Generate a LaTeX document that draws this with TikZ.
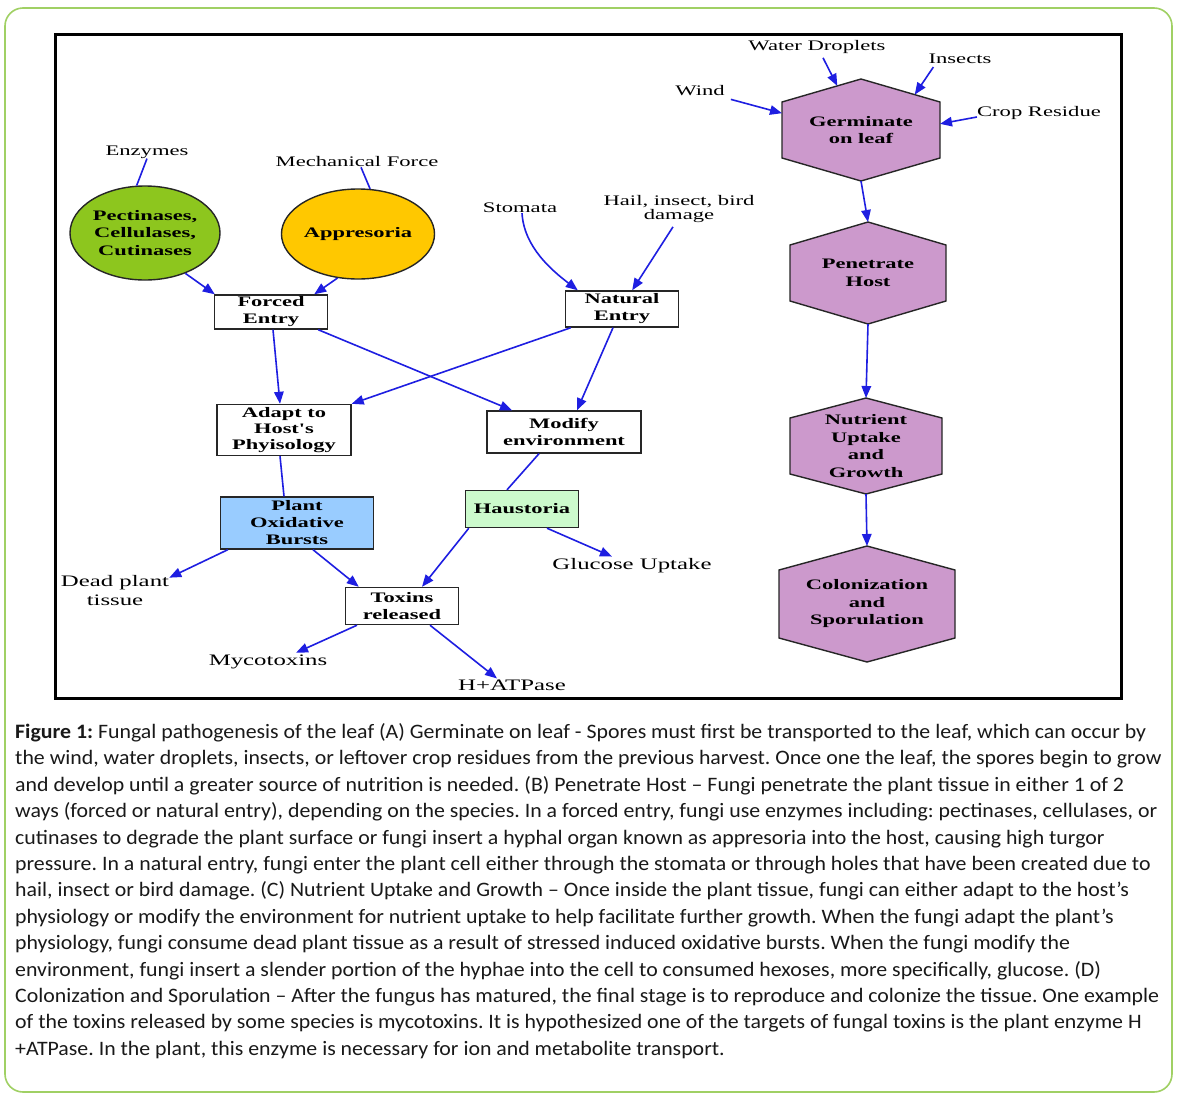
\documentclass[tikz,border=0pt]{standalone}
\usepackage{fontspec}
\setmainfont{Carlito}[FakeStretch=1.065]
\newfontfamily\dfont[FakeStretch=1.55]{Liberation Serif}
\usetikzlibrary{shapes.geometric,arrows.meta,calc}
\definecolor{edgeblue}{RGB}{30,30,225}
\definecolor{framegreen}{RGB}{160,208,100}
\definecolor{pectgreen}{RGB}{141,198,30}
\definecolor{appyellow}{RGB}{255,200,0}
\definecolor{oxblue}{RGB}{153,204,255}
\definecolor{haugreen}{RGB}{204,250,204}
\definecolor{hexpurple}{RGB}{204,153,204}
\definecolor{captext}{RGB}{25,25,25}
\newcommand\hexnode[7]{%
  \coordinate (#1-n) at (#2,#3-#5);
  \coordinate (#1-ne) at (#2+#4,#3-#6);
  \coordinate (#1-se) at (#2+#4,#3+#6);
  \coordinate (#1-s) at (#2,#3+#5);
  \coordinate (#1-sw) at (#2-#4,#3+#6);
  \coordinate (#1-nw) at (#2-#4,#3-#6);
  \filldraw[hexshape] (#1-n)--(#1-ne)--(#1-se)--(#1-s)--(#1-sw)--(#1-nw)--cycle;
  \node[hextext] (#1) at (#2,#3) {#7};
}
\begin{document}
\frenchspacing
\begin{tikzpicture}[x=1pt,y=-1pt,
  lbl/.style={font=\dfont\fontsize{14.6}{15.5}\selectfont, inner sep=0pt, align=center},
  biglbl/.style={font=\dfont\fontsize{16}{19}\selectfont, inner sep=0pt, align=center},
  bx/.style={draw=black!85, line width=1.4pt, fill=white, font=\dfont\bfseries\fontsize{14.5}{17}\selectfont, align=center, inner sep=0pt},
  ell/.style={ellipse, draw=black!85, line width=1.4pt, font=\dfont\bfseries\fontsize{14.5}{17.5}\selectfont, align=center, inner sep=0pt},
  hextext/.style={font=\dfont\bfseries\fontsize{14.5}{17.5}\selectfont, align=center, inner sep=0pt},
  hexshape/.style={fill=hexpurple, draw=black!85, line width=1.4pt},
  conn/.style={draw=edgeblue, line width=1.6pt},
  arr/.style={conn, -{Triangle[length=12pt,width=9.5pt]}},
  captxt/.style={anchor=base west, inner sep=0pt, font=\fontsize{20.5}{24}\selectfont, text=captext}
]
\useasboundingbox (0,0) rectangle (1181,1098);
\fill[white] (0,0) rectangle (1181,1098);
% outer frame and inner frame
\draw[framegreen, line width=1.6pt, rounded corners=18pt] (5,8) rectangle (1172,1092);
\draw[black, line width=3pt] (55,34) rectangle (1121,698);

% left part
\node[ell, fill=pectgreen, minimum width=150pt, minimum height=94pt] (pect) at (145,233) {Pectinases,\\Cellulases,\\Cutinases};
\node[ell, fill=appyellow, minimum width=124pt, minimum height=90pt] (app) at (358,234) {Appresoria};
\node[lbl] (enz) at (147,152) {Enzymes};
\node[lbl] (mech) at (357,162) {Mechanical Force};
\node[lbl] (stom) at (520,208) {Stomata};
\node[lbl, font=\dfont\fontsize{14.6}{14}\selectfont] (hail) at (679,209) {Hail, insect, bird\\damage};
\node[bx, minimum width=113pt, minimum height=34pt] (forced) at (271,312) {Forced\\Entry};
\node[bx, minimum width=113pt, minimum height=36pt] (nat) at (622,309) {Natural\\Entry};
\node[bx, minimum width=134pt, minimum height=51pt, font=\dfont\bfseries\fontsize{14.5}{16}\selectfont] (adapt) at (284,430) {Adapt to\\Host's\\Phyisology};
\node[bx, minimum width=154pt, minimum height=42pt] (modify) at (564,432) {Modify\\environment};
\node[bx, fill=oxblue, minimum width=153pt, minimum height=52pt] (plant) at (297,523) {Plant\\Oxidative\\Bursts};
\node[bx, fill=haugreen, minimum width=113pt, minimum height=37pt] (haus) at (522,509) {Haustoria};
\node[bx, minimum width=113pt, minimum height=37pt] (toxins) at (402,606) {Toxins\\released};
\node[biglbl] (dead) at (115,591) {Dead plant\\tissue};
\node[biglbl] (gluc) at (632,566) {Glucose Uptake};
\node[biglbl] (myco) at (268,662) {Mycotoxins};
\node[biglbl] (hatp) at (512,685) {H+ATPase};

% right column
\hexnode{germ}{861}{130}{79}{51}{28}{Germinate\\on leaf}
\hexnode{pen}{868}{273}{78}{51}{28}{Penetrate\\Host}
\hexnode{nut}{866}{446}{76}{48}{28}{Nutrient\\Uptake\\and\\Growth}
\hexnode{col}{867}{604}{88}{58}{34}{Colonization\\and\\Sporulation}
\node[lbl] (wd) at (817,47) {Water Droplets};
\node[lbl] (ins) at (960,59) {Insects};
\node[lbl] (wind) at (700,91) {Wind};
\node[lbl] (crop) at (1039,113) {Crop Residue};

% edges left
\draw[conn] (enz.south) -- (pect.100);
\draw[conn] ([xshift=4pt]mech.south) -- (app.75);
\draw[arr] (pect.-45) -- ([xshift=1pt]forced.north west);
\draw[arr] (app.-115) -- ([xshift=-14pt]forced.north east);
\draw[arr] ([xshift=2pt]stom.south) .. controls +(2,34) and +(-26,-20) .. ([xshift=13pt]nat.north west);
\draw[arr] ([xshift=-6pt,yshift=-4pt]hail.south) -- ([xshift=-47pt]nat.north east);
\draw[arr] ([xshift=2pt]forced.south) -- ([xshift=-4pt]adapt.north);
\draw[arr] ([xshift=-10pt]forced.south east) -- ([xshift=-52pt]modify.north);
\draw[arr] ([xshift=6pt]nat.south west) -- (adapt.north east);
\draw[arr] ([xshift=-9pt]nat.south) -- ([xshift=13pt]modify.north);
\draw[conn] ([xshift=-4pt]adapt.south) -- ([xshift=-13pt]plant.north);
\draw[conn] ([xshift=-25pt]modify.south) -- ([xshift=-15pt]haus.north);
\draw[arr] ([xshift=8pt]plant.south west) -- ([yshift=-2pt]dead.north east);
\draw[arr] ([xshift=16pt]plant.south) -- ([xshift=14pt]toxins.north west);
\draw[arr] ([xshift=4pt]haus.south west) -- ([xshift=20pt]toxins.north);
\draw[arr] ([xshift=25pt]haus.south) -- ([xshift=-20pt,yshift=2pt]gluc.north);
\draw[arr] ([xshift=-45pt]toxins.south) -- ([xshift=28pt,yshift=2pt]myco.north);
\draw[arr] ([xshift=28pt]toxins.south) -- ([xshift=-15pt,yshift=1pt]hatp.north);

% edges right
\draw[arr] (germ-s) -- (pen-n);
\draw[arr] (pen-s) -- (nut-n);
\draw[arr] (nut-s) -- (col-n);
\draw[arr] ([xshift=6pt,yshift=-3pt]wind.south east) -- ($(germ-nw)!0.2!(germ-sw)$);
\draw[arr] ([xshift=6pt,yshift=-4pt]wd.south) -- ($(germ-nw)!0.7!(germ-n)$);
\draw[arr] ([xshift=5pt,yshift=-3pt]ins.south west) -- ($(germ-n)!0.68!(germ-ne)$);
\draw[arr] ([yshift=-4pt]crop.west) -- ($(germ-ne)!0.39!(germ-se)$);

% caption
\node[captxt] (cap1) at (15,738.5) {\textbf{Figure 1:} Fungal pathogenesis of the leaf (A) Germinate on leaf - Spores must first be transported to the leaf, which can occur by};
\node[captxt] (cap2) at (15,764.9) {the wind, water droplets, insects, or leftover crop residues from the previous harvest. Once one the leaf, the spores begin to grow};
\node[captxt] (cap3) at (15,791.3) {and develop until a greater source of nutrition is needed. (B) Penetrate Host – Fungi penetrate the plant tissue in either 1 of 2};
\node[captxt] (cap4) at (15,817.7) {ways (forced or natural entry), depending on the species. In a forced entry, fungi use enzymes including: pectinases, cellulases, or};
\node[captxt] (cap5) at (15,844.1) {cutinases to degrade the plant surface or fungi insert a hyphal organ known as appresoria into the host, causing high turgor};
\node[captxt] (cap6) at (15,870.5) {pressure. In a natural entry, fungi enter the plant cell either through the stomata or through holes that have been created due to};
\node[captxt] (cap7) at (15,896.9) {hail, insect or bird damage. (C) Nutrient Uptake and Growth – Once inside the plant tissue, fungi can either adapt to the host’s};
\node[captxt] (cap8) at (15,923.3) {physiology or modify the environment for nutrient uptake to help facilitate further growth. When the fungi adapt the plant’s};
\node[captxt] (cap9) at (15,949.7) {physiology, fungi consume dead plant tissue as a result of stressed induced oxidative bursts. When the fungi modify the};
\node[captxt] (cap10) at (15,976.1) {environment, fungi insert a slender portion of the hyphae into the cell to consumed hexoses, more specifically, glucose. (D)};
\node[captxt] (cap11) at (15,1002.5) {Colonization and Sporulation – After the fungus has matured, the final stage is to reproduce and colonize the tissue. One example};
\node[captxt] (cap12) at (15,1028.9) {of the toxins released by some species is mycotoxins. It is hypothesized one of the targets of fungal toxins is the plant enzyme H};
\node[captxt] (cap13) at (15,1055.3) {+ATPase. In the plant, this enzyme is necessary for ion and metabolite transport.};
\end{tikzpicture}
\end{document}
